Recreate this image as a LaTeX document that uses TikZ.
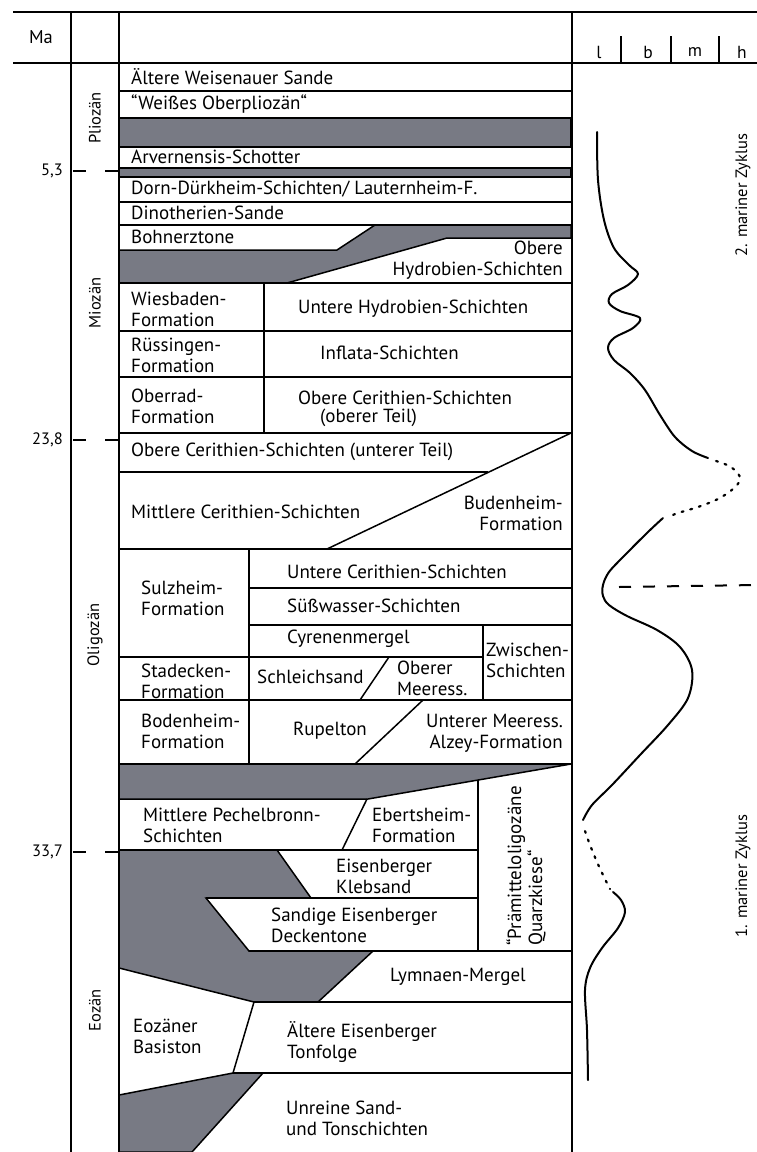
\documentclass[tikz,border=0pt]{standalone}
\usepackage{fontspec}
\setmainfont{PT Sans}
\begin{document}
\begin{tikzpicture}[x=1pt,y=-1pt,
  ln/.style={line width=1.5pt},
  thk/.style={line width=1.9pt},
  grayfill/.style={fill=gfill,draw=black,line width=1.5pt,line join=miter},
  lbl/.style={inner sep=0pt,font=\fontsize{16.5}{21}\selectfont},
  big/.style={inner sep=0pt,font=\fontsize{19}{21}\selectfont},
  lw/.style={big,anchor=west,align=left},
  le/.style={big,anchor=east,align=right},
  rot/.style={lbl,rotate=90},
  crv/.style={line width=2pt,line cap=round,line join=round},
  dotcrv/.style={line width=2.2pt,line cap=round,dash pattern=on 2pt off 7pt}]
\definecolor{gfill}{RGB}{120,122,132}
\useasboundingbox (0,0) rectangle (757,1152);
\fill[white] (0,0) rectangle (757,1152);

% ---------- gray fills ----------
\path[grayfill] (119,118) rectangle (571,147);
\path[grayfill] (119,168) rectangle (571,177);
\path[grayfill] (375,225) -- (571,225) -- (571,238) -- (447,238) -- (287,283) -- (119,283) -- (119,250) -- (337,250) -- cycle;
\path[grayfill] (119,764) -- (571,764) -- (368,799) -- (119,799) -- cycle;
\path[grayfill] (119,850) -- (277,850) -- (311,898) -- (206,898) -- (249,951) -- (373,951) -- (318,1002) -- (254,1002) -- (119,968) -- cycle;
\path[grayfill] (119,1095) -- (233,1073) -- (263,1073) -- (192,1152) -- (119,1152) -- cycle;

% ---------- frame ----------
\draw[thk] (13,12) -- (757,12);
\draw[thk] (13,63) -- (757,63);
\draw[ln] (71,12) -- (71,1152);
\draw[ln] (119,12) -- (119,1152);
\draw[ln] (572,12) -- (572,1152);
\draw[ln] (621,36) -- (621,63) (671,36) -- (671,63) (719,36) -- (719,63);

% ---------- horizontal strata lines ----------
\foreach \yy in {91,118,147,168,177,202,225,283,331,377,433,549,700,764}
  \draw[ln] (119,\yy) -- (571,\yy);
\draw[ln] (119,472) -- (488,472);
\draw[ln] (249,588) -- (571,588);
\draw[ln] (249,625) -- (571,625);
\draw[ln] (119,657) -- (483,657);
\draw[ln] (119,850) -- (478,850);
\draw[ln] (206,898) -- (478,898);
\draw[ln] (249,951) -- (571,951);
\draw[ln] (254,1002) -- (571,1002);
\draw[ln] (233,1073) -- (571,1073);

% ---------- vertical strata lines ----------
\draw[ln] (264,283) -- (264,433);
\draw[ln] (249,549) -- (249,764);
\draw[ln] (483,625) -- (483,700);
\draw[ln] (478,780) -- (478,951);

% ---------- diagonal lines ----------
\draw[ln] (327,549) -- (571,433);
\draw[ln] (389,657) -- (360,700);
\draw[ln] (423,700) -- (355,764);
\draw[ln] (367,799) -- (342,850);
\draw[ln] (254,1002) -- (233,1073);

% ---------- ticks ----------
\foreach \yy in {171,440,852}
  \draw[ln] (73,\yy) -- (86,\yy) (105,\yy) -- (119,\yy);

% ---------- header labels ----------
\node[lbl,font=\fontsize{18.5}{21}\selectfont] (ma) at (41,37) {Ma};
\node[lbl,font=\fontsize{17.5}{21}\selectfont] (hl) at (599,52) {l};
\node[lbl,font=\fontsize{17.5}{21}\selectfont] (hb) at (648,52) {b};
\node[lbl,font=\fontsize{17.5}{21}\selectfont] (hm) at (695,52) {m};
\node[lbl,font=\fontsize{17.5}{21}\selectfont] (hh) at (742,52) {h};

\node[lbl,anchor=east] (m1) at (63,171) {5,3};
\node[lbl,anchor=east] (m2) at (63,440) {23,8};
\node[lbl,anchor=east] (m3) at (63,852) {33,7};

\node[rot] (e1) at (95,118) {Pliozän};
\node[rot] (e2) at (95,303) {Miozän};
\node[rot] (e3) at (95,635) {Oligozän};
\node[rot] (e4) at (95,1010) {Eozän};

% ---------- strata labels ----------
\node[lw] (s1) at (131,77) {Ältere Weisenauer Sande};
\node[lw] (s2) at (131,104) {“Weißes Oberpliozän“};
\node[lw] (s3) at (131,157) {Arvernensis-Schotter};
\node[lw] (s4) at (131,189) {Dorn-Dürkheim-Schichten/ Lauternheim-F.};
\node[lw] (s5) at (131,213) {Dinotherien-Sande};
\node[lw] (s6) at (131,237) {Bohnerztone};
\node[le] (s7) at (563,260.5) {Obere\\Hydrobien-Schichten};
\node[lw] (s8) at (131,309.5) {Wiesbaden-\\Formation};
\node[lw] (s9) at (298,309) {Untere Hydrobien-Schichten};
\node[lw] (s10) at (131,355) {Rüssingen-\\Formation};
\node[lw] (s11) at (320,353) {Inflata-Schichten};
\node[lw] (s12) at (131,406) {Oberrad-\\Formation};
\node[lw] (s13) at (298,398) {Obere Cerithien-Schichten};
\node[lw] (s14) at (320,418) {(oberer Teil)};
\node[lw] (s15) at (131,452) {Obere Cerithien-Schichten (unterer Teil)};
\node[lw] (s16) at (131,512) {Mittlere Cerithien-Schichten};
\node[le] (s17) at (563,513.5) {Budenheim-\\Formation};
\node[lw] (s18) at (141,598.5) {Sulzheim-\\Formation};
\node[lw] (s19) at (287,572) {Untere Cerithien-Schichten};
\node[lw] (s20) at (287,606) {Süßwasser-Schichten};
\node[lw] (s21) at (287,639) {Cyrenenmergel};
\node[lw] (s22) at (486,660.5) {Zwischen-\\Schichten};
\node[lw] (s23) at (141,681) {Stadecken-\\Formation};
\node[lw] (s24) at (257,677) {Schleichsand};
\node[lw] (s25) at (397,678) {Oberer\\Meeress.};
\node[lw] (s26) at (141,731) {Bodenheim-\\Formation};
\node[lw] (s27) at (293,731) {Rupelton};
\node[le] (s28) at (563,733.5) {Unterer Meeress.\\Alzey-Formation};
\node[lw] (s29) at (143,825.5) {Mittlere Pechelbronn-\\Schichten};
\node[lw] (s30) at (372,825.5) {Ebertsheim-\\Formation};
\node[lw] (s31) at (336,876) {Eisenberger\\Klebsand};
\node[lw] (s32) at (271,925) {Sandige Eisenberger\\Deckentone};
\node[lw] (s33) at (390,977) {Lymnaen-Mergel};
\node[lw] (s34) at (133,1036) {Eozäner\\Basiston};
\node[lw] (s35) at (287,1042.5) {Ältere Eisenberger\\Tonfolge};
\node[lw] (s36) at (286,1118) {Unreine Sand-\\und Tonschichten};
\node[big,rotate=90,anchor=west,align=left] (s37) at (526,946) {“Prämitteloligozäne\\Quarzkiese“};

% ---------- cycle labels ----------
\node[rot] (z2) at (743,195) {2. mariner Zyklus};
\node[rot] (z1) at (743,876) {1. mariner Zyklus};

% ---------- sea level curve ----------
\draw[crv] plot[smooth,tension=0.55] coordinates {(597,132) (598,180) (604,220) (614,248) (629,265) (638,274) (628,285) (612,294) (609,303) (620,311) (640,318) (633,328) (614,338) (608,348) (614,360) (630,373) (645,390) (660,415) (675,437) (692,451) (708,458)};
\draw[dotcrv] plot[smooth,tension=0.55] coordinates {(716,461) (727,465) (737,472) (740,480) (733,489) (718,499) (698,507) (678,513) (668,517)};
\draw[crv] plot[smooth,tension=0.55] coordinates {(663,518) (648,532) (625,555) (609,572) (603,585) (603,596) (609,605) (627,616) (657,630) (680,647) (692,670) (688,698) (668,725) (640,755) (612,785) (592,805) (583,820)};
\draw[dotcrv] plot[smooth] coordinates {(585,831) (590,845) (597,862) (604,877) (610,889)};
\draw[crv] plot[smooth,tension=0.55] coordinates {(613,892) (621,900) (625,912) (618,928) (602,948) (590,968) (585,990) (587,1030) (588,1080)};
\draw[line width=2pt,dash pattern=on 12pt off 12pt] (619,587) -- (757,585);
\end{tikzpicture}
\end{document}
